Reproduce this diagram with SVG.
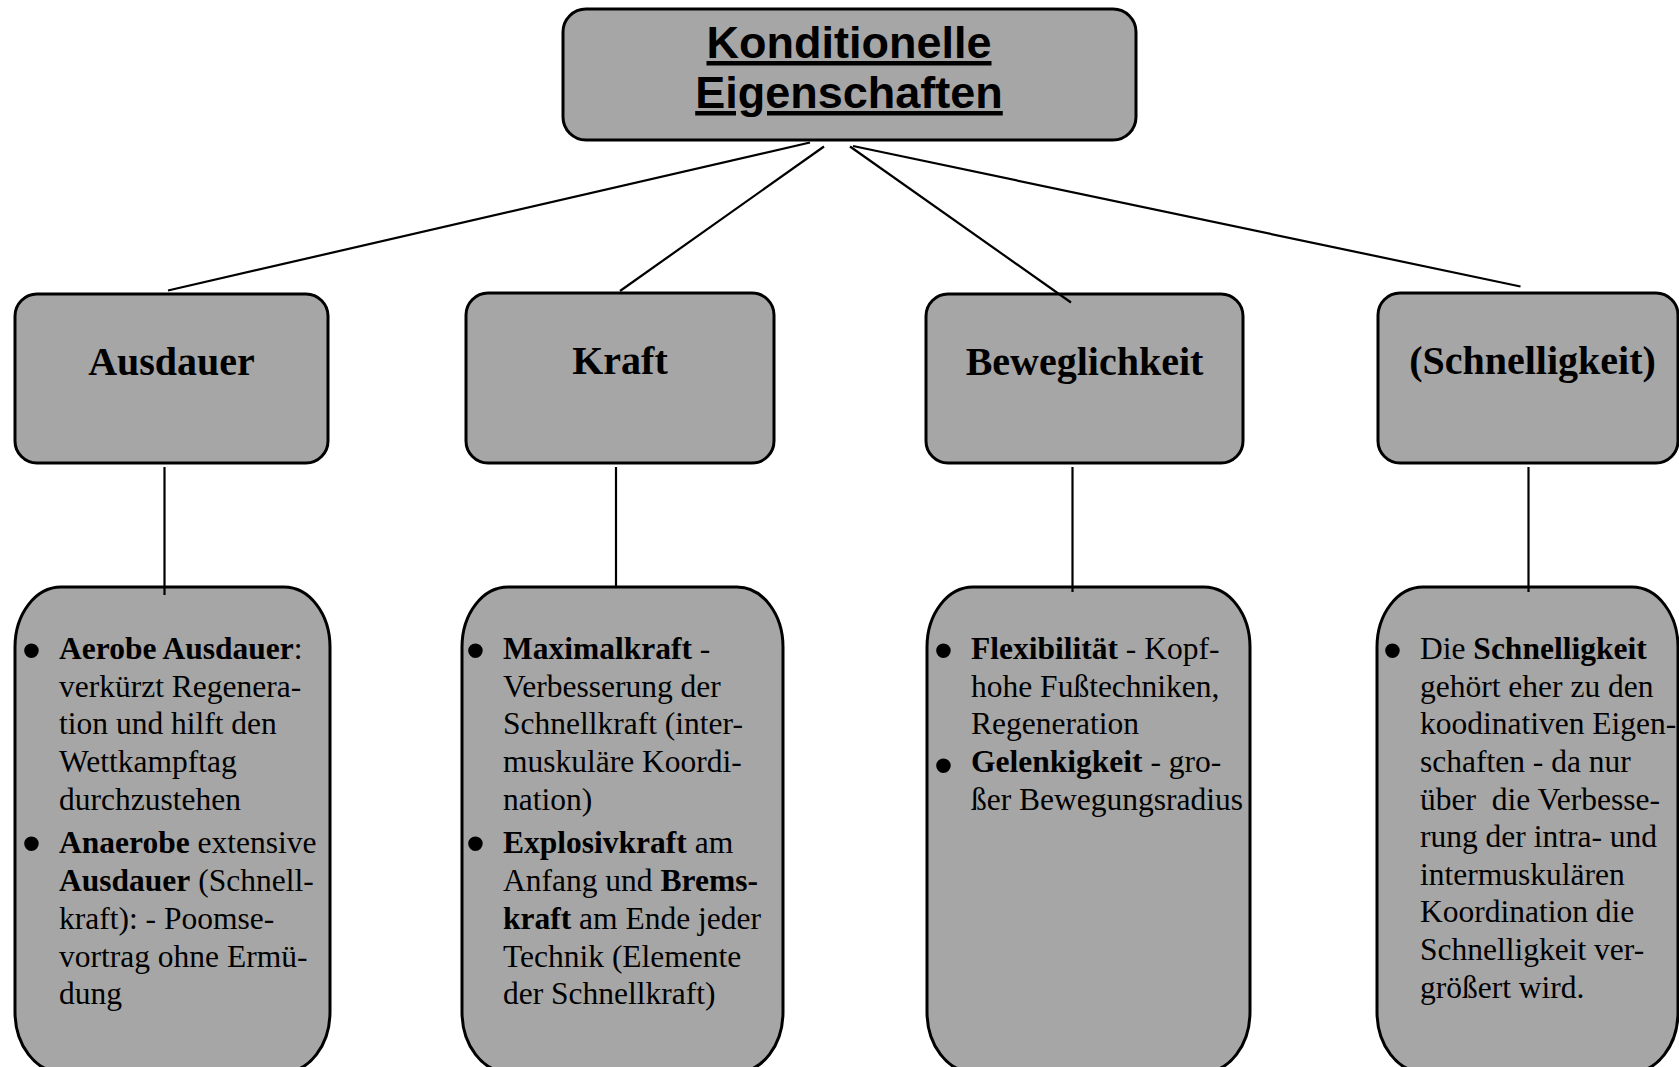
<svg xmlns="http://www.w3.org/2000/svg" width="1679" height="1067" viewBox="0 0 1679 1067">
<style>
.box{fill:#a6a6a6;stroke:#000;stroke-width:3}
.ln{stroke:#000;stroke-width:2.2;fill:none}
.title{font-family:"Liberation Sans",Arial,sans-serif;font-weight:bold;font-size:45px;text-anchor:middle;text-decoration:underline}
.head{font-family:"Liberation Serif","Times New Roman",serif;font-weight:bold;font-size:40px;text-anchor:middle}
.body{font-family:"Liberation Serif","Times New Roman",serif;font-size:31.5px}
.bul{font-family:"Liberation Sans",Arial,sans-serif;font-size:54px}
.b{font-weight:bold}
</style>
<rect width="1679" height="1067" fill="#fff"/>
<g id="root">
<rect class="box" x="563" y="9" width="573" height="131" rx="23" ry="23"/>
<text class="title" x="849" y="58">Konditionelle</text>
<text class="title" x="849" y="108">Eigenschaften</text>
</g>
<g id="ausdauer">
<rect class="box" x="15" y="294" width="313" height="169" rx="22" ry="22"/>
<text class="head" x="171.5" y="375">Ausdauer</text>
</g>
<g id="kraft">
<rect class="box" x="466" y="293" width="308" height="170" rx="22" ry="22"/>
<text class="head" x="620" y="374">Kraft</text>
</g>
<g id="beweglichkeit">
<rect class="box" x="926" y="294" width="317" height="169" rx="22" ry="22"/>
<text class="head" x="1084.5" y="375">Beweglichkeit</text>
</g>
<g id="schnelligkeit">
<rect class="box" x="1378" y="293" width="300" height="170" rx="22" ry="22"/>
<text class="head" x="1532.5" y="374">(Schnelligkeit)</text>
</g>
<g id="ausdauer-details">
<rect class="box" x="15" y="587" width="315" height="485" rx="46" ry="60"/>
<text class="bul" x="22" y="669">•</text>
<text class="body" x="59" y="659"><tspan class="b">Aerobe Ausdauer</tspan>:</text>
<text class="body" x="59" y="697">verkürzt Regenera-</text>
<text class="body" x="59" y="734">tion und hilft den</text>
<text class="body" x="59" y="772">Wettkampftag</text>
<text class="body" x="59" y="810">durchzustehen</text>
<text class="bul" x="22" y="862">•</text>
<text class="body" x="59" y="853"><tspan class="b">Anaerobe</tspan> extensive</text>
<text class="body" x="59" y="891"><tspan class="b">Ausdauer</tspan> (Schnell-</text>
<text class="body" x="59" y="929">kraft): - Poomse-</text>
<text class="body" x="59" y="967">vortrag ohne Ermü-</text>
<text class="body" x="59" y="1004">dung</text>
</g>
<g id="kraft-details">
<rect class="box" x="462" y="587" width="321" height="485" rx="46" ry="60"/>
<text class="bul" x="466" y="669">•</text>
<text class="body" x="503" y="659"><tspan class="b">Maximalkraft</tspan> -</text>
<text class="body" x="503" y="697">Verbesserung der</text>
<text class="body" x="503" y="734">Schnellkraft (inter-</text>
<text class="body" x="503" y="772">muskuläre Koordi-</text>
<text class="body" x="503" y="810">nation)</text>
<text class="bul" x="466" y="862">•</text>
<text class="body" x="503" y="853"><tspan class="b">Explosivkraft</tspan> am</text>
<text class="body" x="503" y="891">Anfang und <tspan class="b">Brems-</tspan></text>
<text class="body" x="503" y="929"><tspan class="b">kraft</tspan> am Ende jeder</text>
<text class="body" x="503" y="967">Technik (Elemente</text>
<text class="body" x="503" y="1004">der Schnellkraft)</text>
</g>
<g id="beweglichkeit-details">
<rect class="box" x="927" y="587" width="323" height="485" rx="46" ry="60"/>
<text class="bul" x="934" y="669">•</text>
<text class="body" x="971" y="659"><tspan class="b">Flexibilität</tspan> - Kopf-</text>
<text class="body" x="971" y="697">hohe Fußtechniken,</text>
<text class="body" x="971" y="734">Regeneration</text>
<text class="bul" x="934" y="784">•</text>
<text class="body" x="971" y="772"><tspan class="b">Gelenkigkeit</tspan> - gro-</text>
<text class="body" x="971" y="810">ßer Bewegungsradius</text>
</g>
<g id="schnelligkeit-details">
<rect class="box" x="1377" y="587" width="301" height="485" rx="46" ry="60"/>
<text class="bul" x="1383" y="669">•</text>
<text class="body" x="1420" y="659">Die <tspan class="b">Schnelligkeit</tspan></text>
<text class="body" x="1420" y="697">gehört eher zu den</text>
<text class="body" x="1420" y="734">koodinativen Eigen-</text>
<text class="body" x="1420" y="772">schaften - da nur</text>
<text class="body" x="1420" y="810" xml:space="preserve">über  die Verbesse-</text>
<text class="body" x="1420" y="847">rung der intra- und</text>
<text class="body" x="1420" y="885">intermuskulären</text>
<text class="body" x="1420" y="922">Koordination die</text>
<text class="body" x="1420" y="960">Schnelligkeit ver-</text>
<text class="body" x="1420" y="998">größert wird.</text>
</g>
<g id="connectors">
<line class="ln" x1="810" y1="142.5" x2="168" y2="290.5"/>
<line class="ln" x1="824" y1="146.5" x2="620" y2="291"/>
<line class="ln" x1="850" y1="146.5" x2="1071" y2="302.5"/>
<line class="ln" x1="853" y1="146" x2="1520.5" y2="286.5"/>
<line class="ln" x1="164.5" y1="467" x2="164.5" y2="595"/>
<line class="ln" x1="616" y1="467" x2="616" y2="587"/>
<line class="ln" x1="1072.5" y1="467" x2="1072.5" y2="592"/>
<line class="ln" x1="1528.5" y1="467" x2="1528.5" y2="592"/>
</g>
</svg>
